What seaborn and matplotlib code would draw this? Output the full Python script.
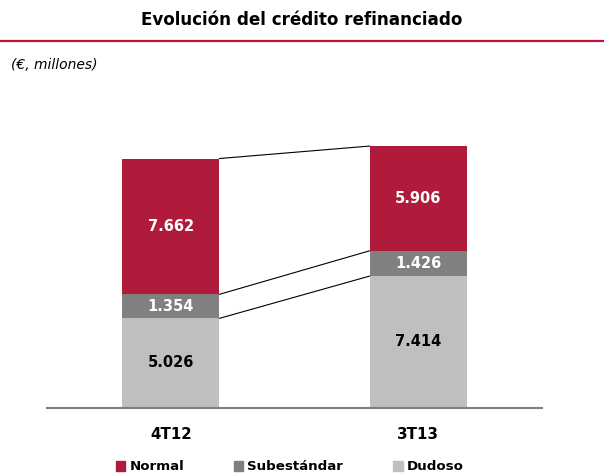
import matplotlib
matplotlib.use("Agg")
import matplotlib.pyplot as plt
import matplotlib.patches as mpatches
from matplotlib.lines import Line2D
import pandas as pd
import seaborn as sns

# datos (€, millones)
periodos = ["4T12", "3T13"]
normal = [7662, 5906]
subestandar = [1354, 1426]
dudoso = [5026, 7414]
etiquetas_normal = ["7.662", "5.906"]
etiquetas_sub = ["1.354", "1.426"]
etiquetas_dud = ["5.026", "7.414"]

c_normal = "#B01B3B"
c_sub = "#808080"
c_dud = "#BFBFBF"

sns.set_theme(style="white")
plt.rcParams["font.family"] = ["DejaVu Sans"]
plt.rcParams["text.color"] = "black"
plt.rcParams["xtick.color"] = "black"

df = pd.DataFrame({"Periodo": periodos, "Normal": normal,
                   "Subestandar": subestandar, "Dudoso": dudoso})
df["nivel_sub"] = df["Dudoso"] + df["Subestandar"]
df["total"] = df["nivel_sub"] + df["Normal"]

fig = plt.figure(figsize=(6.04, 4.74), dpi=100)
ax = fig.add_axes([47 / 604, 1 - 407.5 / 474, 495 / 604, 307.5 / 474])

w = 0.392
# barras apiladas: total, luego dudoso+subestandar, luego dudoso
sns.barplot(data=df, x="Periodo", y="total", color=c_normal, width=w,
            saturation=1, ax=ax, linewidth=0)
sns.barplot(data=df, x="Periodo", y="nivel_sub", color=c_sub, width=w,
            saturation=1, ax=ax, linewidth=0)
sns.barplot(data=df, x="Periodo", y="Dudoso", color=c_dud, width=w,
            saturation=1, ax=ax, linewidth=0)

ax.set_xlim(-0.5, 1.5)
ax.set_ylim(0, 307.5 / 0.01773)

# lineas de conexion entre barras
for col in ["total", "nivel_sub", "Dudoso"]:
    ax.plot([0 + w / 2, 1 - w / 2], [df[col][0], df[col][1]],
            color="black", lw=0.8, zorder=3)

# etiquetas
for i in range(len(periodos)):
    ax.text(i, df["Dudoso"][i] / 2, etiquetas_dud[i], ha="center", va="center",
            fontsize=10.5, fontweight="bold", color="black")
    ax.text(i, df["Dudoso"][i] + df["Subestandar"][i] / 2, etiquetas_sub[i],
            ha="center", va="center", fontsize=10.5, fontweight="bold", color="white")
    ax.text(i, df["nivel_sub"][i] + df["Normal"][i] / 2, etiquetas_normal[i],
            ha="center", va="center", fontsize=10.5, fontweight="bold", color="white")

sns.despine(ax=ax, left=True)
ax.spines["bottom"].set_color("#808080")
ax.spines["bottom"].set_linewidth(1.5)
ax.set_yticks([])
ax.set_xlabel("")
ax.set_ylabel("")
ax.tick_params(axis="x", length=0, pad=14)
for t in ax.get_xticklabels():
    t.set_fontweight("bold")
    t.set_fontsize(10.8)

# titulo y subtitulo
fig.text(0.5, 1 - 20 / 474, "Evolución del crédito refinanciado", ha="center",
         va="center", fontsize=12.1, fontweight="bold")
fig.add_artist(Line2D([0, 1], [1 - 41 / 474, 1 - 41 / 474], color="#C0143C", lw=1.6))
fig.text(11 / 604, 1 - 65 / 474, "(€, millones)", ha="left", va="center",
         fontsize=10, style="italic")

handles = [mpatches.Patch(color=c_normal, label="Normal"),
           mpatches.Patch(color=c_sub, label="Subestándar"),
           mpatches.Patch(color=c_dud, label="Dudoso")]
leg = fig.legend(handles=handles, ncol=3, loc="center left",
                 bbox_to_anchor=(116 / 604, 1 - 467 / 474), frameon=False,
                 handlelength=0.7, handleheight=0.7, handletextpad=0.3,
                 columnspacing=3.75, borderaxespad=0, borderpad=0,
                 prop={"weight": "bold", "size": 9.6})

fig.savefig("out.png", dpi=100)
